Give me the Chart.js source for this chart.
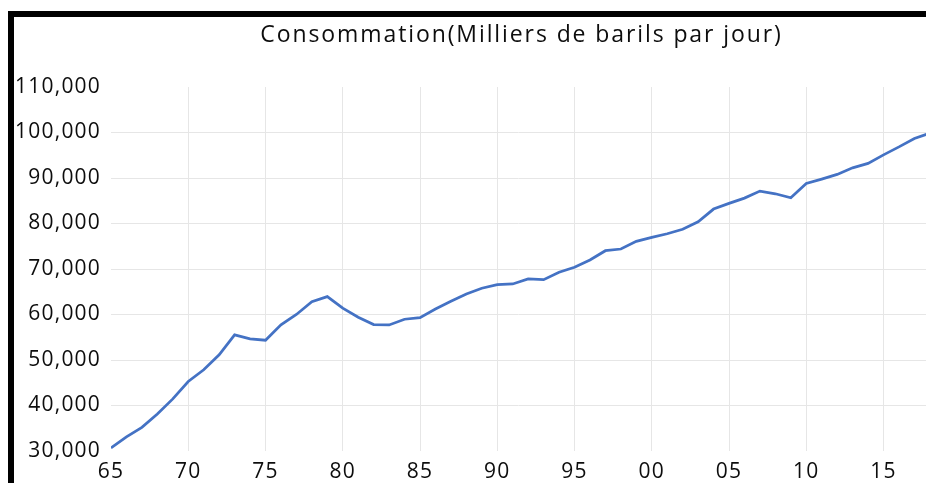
<!DOCTYPE html>
<html>
<head>
<meta charset="utf-8">
<script src="https://cdn.jsdelivr.net/npm/chart.js@4.4.1/dist/chart.umd.min.js"></script>
<style>
  html, body { margin: 0; padding: 0; background: #fff; overflow: hidden; }
  #frame {
    position: absolute; left: 8px; top: 11px;
    width: 912px; height: 466px;
    border-left: 6px solid #000; border-top: 6px solid #000;
  }
  canvas { display: block; }
</style>
</head>
<body>
<div id="frame"><canvas id="chart" width="912" height="466"></canvas></div>
<script>
// Années (1965 - 2018)
const years = [
  1965, 1966, 1967, 1968, 1969, 1970, 1971, 1972, 1973, 1974,
  1975, 1976, 1977, 1978, 1979, 1980, 1981, 1982, 1983, 1984,
  1985, 1986, 1987, 1988, 1989, 1990, 1991, 1992, 1993, 1994,
  1995, 1996, 1997, 1998, 1999, 2000, 2001, 2002, 2003, 2004,
  2005, 2006, 2007, 2008, 2009, 2010, 2011, 2012, 2013, 2014,
  2015, 2016, 2017, 2018
];
// Consommation en milliers de barils par jour
const consumption = [
  30660, 33100, 35200, 38150, 41450, 45270, 47840, 51130, 55520, 54640,
  54350, 57720, 60000, 62830, 63930, 61380, 59400, 57780, 57710, 58960,
  59320, 61200, 62900, 64520, 65770, 66560, 66710, 67810, 67660, 69280,
  70380, 71980, 74020, 74390, 76080, 76960, 77750, 78720, 80380, 83170,
  84420, 85580, 87120, 86530, 85650, 88810, 89760, 90790, 92230, 93200,
  95090, 96840, 98690, 99840
];
const yTicks = [30000, 40000, 50000, 60000, 70000, 80000, 90000, 100000, 110000];
const chartTitle = "Consommation(Milliers de barils par jour)";

const FONT = "'Open Sans', 'Noto Sans', sans-serif";

// Grille : pas de ligne aux bords de la zone
function innerGrid(ctx) {
  const n = ctx.scale.ticks.length;
  if (ctx.index === 0 || ctx.index === n - 1 && ctx.scale.axis === "y") return "rgba(0,0,0,0)";
  return "#e6e6e6";
}

// Texte un peu plus espacé, comme dans l'original
const spacingPlugin = {
  id: "spacing",
  beforeDraw(chart) {
    chart.ctx.letterSpacing = "1.2px";
  },
};

// Titre centré sur la zone du graphique
const titlePlugin = {
  id: "centeredTitle",
  afterDraw(chart) {
    const c = chart.ctx;
    const area = chart.chartArea;
    c.save();
    c.letterSpacing = "1.9px";
    c.font = "23px " + FONT;
    c.fillStyle = "#0d0d0d";
    c.textAlign = "center";
    c.textBaseline = "middle";
    c.fillText(chartTitle, (area.left + area.right) / 2 + 3, 18);
    c.restore();
  },
};

new Chart(document.getElementById("chart").getContext("2d"), {
  type: "line",
  data: {
    datasets: [
      {
        data: years.map((yr, i) => ({ x: yr, y: consumption[i] })),
        borderColor: "#4472C4",
        borderWidth: 2.75,
        pointRadius: 0,
        tension: 0,
        fill: false,
      },
    ],
  },
  options: {
    responsive: false,
    animation: false,
    layout: { padding: { top: 70, left: 0, right: 0, bottom: 0 } },
    plugins: {
      legend: { display: false },
      tooltip: { enabled: false },
    },
    scales: {
      x: {
        type: "linear",
        min: 1965,
        max: 2017.75,
        afterFit(scale) { scale.height = 32; },
        grid: { color: innerGrid, drawTicks: false, lineWidth: 1 },
        border: { display: false },
        ticks: {
          stepSize: 5,
          includeBounds: false,
          padding: 8,
          color: "#0d0d0d",
          font: { family: FONT, size: 21 },
          maxRotation: 0,
          callback: (v) => String(v).slice(2),
        },
      },
      y: {
        min: yTicks[0],
        max: yTicks[yTicks.length - 1],
        afterFit(scale) { scale.width = 97; },
        afterBuildTicks(scale) { scale.ticks = yTicks.map((v) => ({ value: v })); },
        grid: { color: innerGrid, drawTicks: false, lineWidth: 1 },
        border: { display: false },
        ticks: {
          padding: 10,
          color: "#0d0d0d",
          font: { family: FONT, size: 21 },
          callback: (v) => v.toLocaleString("en-US"),
        },
      },
    },
  },
  plugins: [spacingPlugin, titlePlugin],
});
</script>
</body>
</html>
